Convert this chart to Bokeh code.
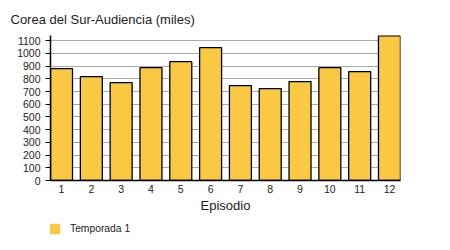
from bokeh.plotting import figure
from bokeh.layouts import column
from bokeh.models import ColumnDataSource, FixedTicker, Legend, LegendItem, Range1d
from bokeh.embed import file_html
from bokeh.resources import INLINE

episodes = ["1", "2", "3", "4", "5", "6", "7", "8", "9", "10", "11", "12"]
audience = [880, 817, 770, 888, 935, 1045, 746, 723, 778, 888, 856, 1139]
y_ticks = [0, 100, 200, 300, 400, 500, 600, 700, 800, 900, 1000, 1100]
title_text = "Corea del Sur-Audiencia (miles)"
x_label = "Episodio"
series_name = "Temporada 1"

FONT = "Liberation Sans"
BAR = "#FBC843"
TXT = "#222222"

xs = list(range(1, len(episodes) + 1))
src = ColumnDataSource(dict(x=xs, top=audience))

main = figure(width=450, height=215, output_backend="svg", toolbar_location=None,
              x_range=Range1d(0.63, 12.37), y_range=Range1d(0, 1141),
              min_border_left=50, min_border_right=50, min_border_top=35,
              min_border_bottom=35)
main.outline_line_color = None
main.background_fill_color = "white"
main.border_fill_color = "white"

main.vbar(x="x", top="top", width=0.737, source=src, fill_color=BAR,
          line_color="black", line_width=1.3)

main.title.text = title_text
main.title.align = "left"
main.title.offset = -40
main.title.text_font = FONT
main.title.text_font_size = "13px"
main.title.text_font_style = "normal"
main.title.text_color = TXT
main.title.standoff = 18

main.xgrid.grid_line_color = None
main.ygrid.grid_line_color = "#aaaaaa"
main.ygrid.grid_line_width = 1
main.ygrid.ticker = FixedTicker(ticks=y_ticks)

main.yaxis.ticker = FixedTicker(ticks=y_ticks)
main.yaxis.major_tick_out = 5
main.yaxis.major_tick_in = 0
main.yaxis.minor_tick_line_color = None
main.yaxis.axis_line_width = 1.5
main.yaxis.major_label_text_font = FONT
main.yaxis.major_label_text_font_size = "10.5px"
main.yaxis.major_label_text_color = TXT
main.yaxis.major_label_standoff = 5

main.xaxis.ticker = FixedTicker(ticks=xs)
main.xaxis.major_label_overrides = {i: e for i, e in zip(xs, episodes)}
main.xaxis.major_tick_out = 0
main.xaxis.major_tick_in = 0
main.xaxis.minor_tick_line_color = None
main.xaxis.axis_line_width = 1.5
main.xaxis.major_label_text_font = FONT
main.xaxis.major_label_text_font_size = "10.5px"
main.xaxis.major_label_text_color = TXT
main.xaxis.major_label_standoff = 4
main.xaxis.axis_label = x_label
main.xaxis.axis_label_text_font = FONT
main.xaxis.axis_label_text_font_style = "normal"
main.xaxis.axis_label_text_font_size = "13px"
main.xaxis.axis_label_text_color = TXT
main.xaxis.axis_label_standoff = 2

# legend strip below the chart (its frame is aligned with the main frame, x=50)
leg = figure(width=450, height=35, output_backend="svg", toolbar_location=None,
             x_range=Range1d(0, 1), y_range=Range1d(0, 1),
             x_axis_type=None, y_axis_type=None,
             min_border_left=0, min_border_right=0, min_border_top=0, min_border_bottom=0)
leg.outline_line_color = None
leg.xgrid.visible = False
leg.ygrid.visible = False
swatch = leg.vbar(x=xs, top=audience, width=0.737, fill_color=BAR, line_color=None,
                  visible=False)
legend = Legend(items=[LegendItem(label=series_name, renderers=[swatch])],
                location=(-2, 15), background_fill_alpha=0, border_line_color=None,
                label_text_font=FONT, label_text_font_size="10.3px", label_text_color=TXT,
                glyph_width=13, glyph_height=13, label_height=13,
                label_standoff=9, padding=0, margin=0)
leg.add_layout(legend)

p = column(main, leg, spacing=0)

open("out.html", "w").write(file_html(p, INLINE))
